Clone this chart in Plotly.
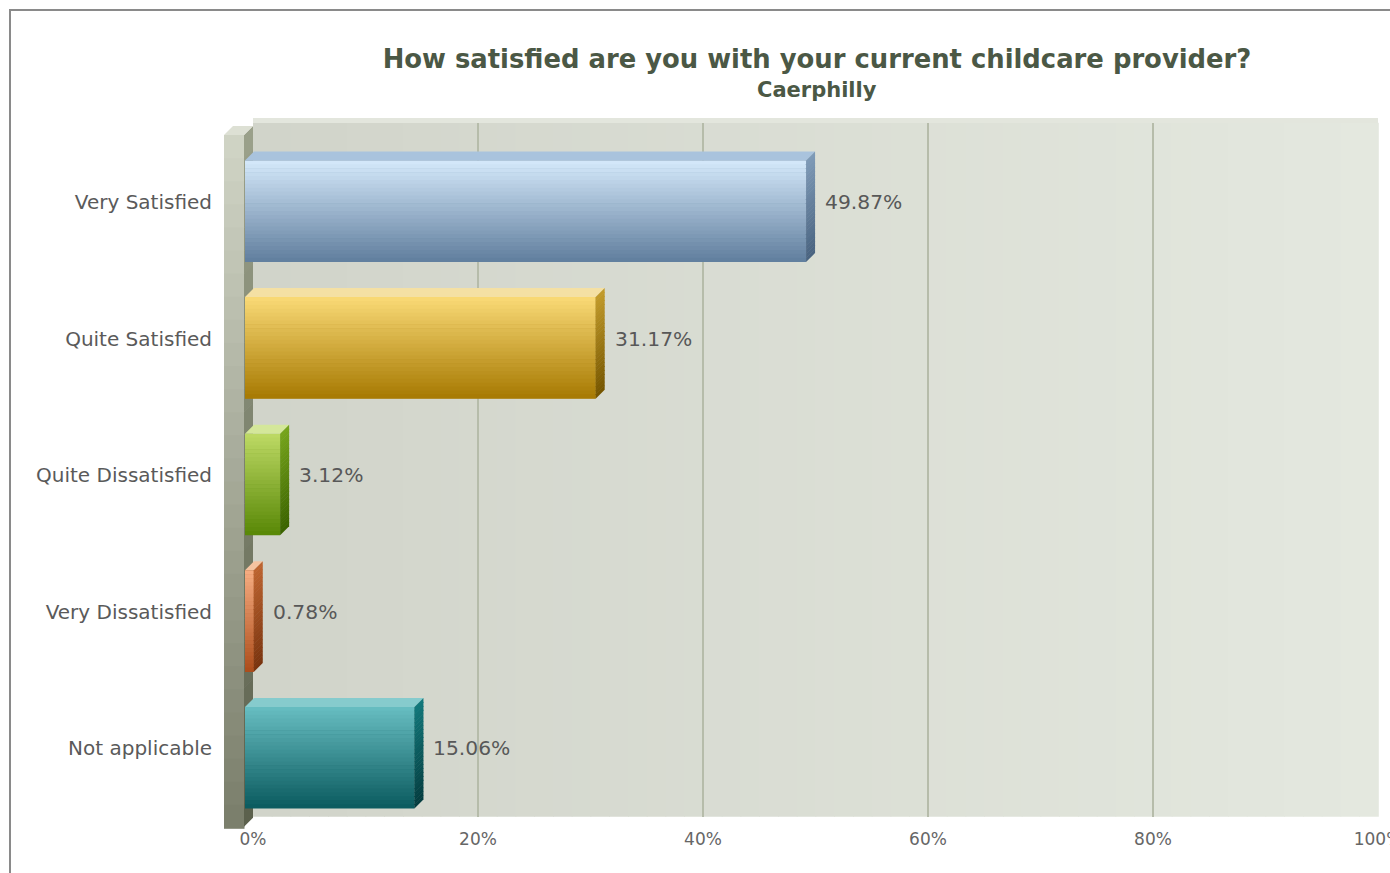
import plotly.graph_objects as go

# ---------------- data ----------------
categories = ["Very Satisfied", "Quite Satisfied", "Quite Dissatisfied", "Very Dissatisfied", "Not applicable"]
values = [49.87, 31.17, 3.12, 0.78, 15.06]
x_ticks = [0, 20, 40, 60, 80, 100]
x_tick_labels = ["0%", "20%", "40%", "60%", "80%", "100%"]
title_text = "How satisfied are you with your current childcare provider?"
subtitle_text = "Caerphilly"

# ---------------- styles ----------------
front_top = ["#d3e7f9", "#f8d874", "#bcd863", "#f5ab80", "#66bcc0"]
front_bot = ["#62809f", "#a87b04", "#5a8908", "#ad4e1c", "#0c5c60"]
cap_col = ["#a9c3dd", "#f4e0a4", "#d4e79a", "#f5c3a0", "#86cbcd"]
side_top = ["#7e9ab7", "#c19a2a", "#76a41c", "#bd6430", "#12777a"]
side_bot = ["#4a6481", "#765600", "#3b6300", "#7a340f", "#043d40"]

W, H = 1390, 873


def X(px):
    return px / W


def Y(py):
    return 1 - py / H


def hex2rgb(h):
    h = h.lstrip("#")
    return tuple(int(h[i:i + 2], 16) for i in (0, 2, 4))


def lerp(c1, c2, t):
    a, b = hex2rgb(c1), hex2rgb(c2)
    return "rgb(%d,%d,%d)" % tuple(round(a[i] + (b[i] - a[i]) * t) for i in range(3))


# axis geometry (pixels)
BACK_X0, BACK_X1 = 253, 1378
FRONT_X0, FRONT_X1 = 245, 1370
BACK_TOP, BACK_BOT = 122.8, 816.8
FRONT_TOP, FRONT_BOT = 142.7, 825.8
BAR_W = 0.74
DX = 9 / ((FRONT_X1 - FRONT_X0) / 100.0)          # depth offset in x data units
DY = 9 / ((FRONT_BOT - FRONT_TOP) / 5.0)           # depth offset in y data units

shapes = []

# ---- frame ----
shapes.append(dict(type="rect", xref="paper", yref="paper", x0=X(10), y0=Y(890), x1=X(1420), y1=Y(10),
                   line=dict(color="#8a8a8a", width=2), fillcolor="rgba(0,0,0,0)", layer="below"))

# ---- back wall gradient ----
N = 60
for k in range(N):
    xa = BACK_X0 + (BACK_X1 - BACK_X0) * k / N
    xb = BACK_X0 + (BACK_X1 - BACK_X0) * (k + 1) / N + 0.8
    shapes.append(dict(type="rect", xref="paper", yref="paper", x0=X(xa), x1=X(xb), y0=Y(BACK_BOT), y1=Y(BACK_TOP),
                       fillcolor=lerp("#d1d4ca", "#e4e8df", k / (N - 1)), line=dict(width=0), layer="below"))
# top rim
shapes.append(dict(type="rect", xref="paper", yref="paper", x0=X(BACK_X0), x1=X(BACK_X1), y0=Y(123), y1=Y(118),
                   fillcolor="#e3e6dd", line=dict(width=0), layer="below"))

# ---- left wall slab ----
NS = 30
s_top, s_bot = 135, 828
for k in range(NS):
    ya = s_top + (s_bot - s_top) * k / NS
    yb = s_top + (s_bot - s_top) * (k + 1) / NS + 0.8
    shapes.append(dict(type="rect", xref="paper", yref="paper", x0=X(224), x1=X(244.5), y0=Y(yb), y1=Y(ya),
                       fillcolor=lerp("#cfd3c4", "#7b7f6c", k / (NS - 1)), line=dict(width=0), layer="below"))
for k in range(NS):
    ya = s_top + (826 - s_top) * k / NS
    yb = s_top + (826 - s_top) * (k + 1) / NS + 0.8
    path = "M %f,%f L %f,%f L %f,%f L %f,%f Z" % (
        X(244), Y(ya), X(253), Y(ya - 9), X(253), Y(yb - 9), X(244), Y(yb))
    shapes.append(dict(type="path", xref="paper", yref="paper", path=path,
                       fillcolor=lerp("#9aa08a", "#5c614d", k / (NS - 1)), line=dict(width=0), layer="below"))
shapes.append(dict(type="path", xref="paper", yref="paper",
                   path="M %f,%f L %f,%f L %f,%f L %f,%f Z" % (X(224), Y(135), X(233), Y(126), X(253), Y(126), X(244), Y(135)),
                   fillcolor="#dde0d4", line=dict(width=0), layer="below"))

# ---- bar 3D faces (from the data, on the front axes) ----
NF = 26
for i, v in enumerate(values):
    top = i - BAR_W / 2
    h = BAR_W / NF
    # front face gradient
    for k in range(NF):
        shapes.append(dict(type="rect", xref="x2", yref="y2", x0=0, x1=v,
                           y0=top + k * h, y1=top + (k + 1) * h + 0.004,
                           fillcolor=lerp(front_top[i], front_bot[i], k / (NF - 1)),
                           line=dict(width=0), layer="above"))
    # top face
    shapes.append(dict(type="path", xref="x2", yref="y2",
                       path="M 0,%f L %f,%f L %f,%f L %f,%f Z" % (top, v, top, v + DX, top - DY, DX, top - DY),
                       fillcolor=cap_col[i], line=dict(width=0), layer="above"))
    # side face
    for k in range(NF):
        ya = top + k * h
        yb = top + (k + 1) * h + 0.004
        shapes.append(dict(type="path", xref="x2", yref="y2",
                           path="M %f,%f L %f,%f L %f,%f L %f,%f Z" % (v, ya, v + DX, ya - DY, v + DX, yb - DY, v, yb),
                           fillcolor=lerp(side_top[i], side_bot[i], k / (NF - 1)),
                           line=dict(width=0), layer="above"))

fig = go.Figure()

# invisible anchor trace for the back (grid) axes
fig.add_trace(go.Scatter(x=[0, 100], y=[0, 4], mode="markers", marker=dict(opacity=0),
                         xaxis="x", yaxis="y", hoverinfo="skip", showlegend=False))

fig.add_trace(go.Bar(
    x=values, y=list(range(len(categories))), orientation="h", width=BAR_W,
    marker=dict(color=front_bot, line=dict(width=0)),
    xaxis="x2", yaxis="y2", showlegend=False,
    hovertext=categories, hoverinfo="text+x",
))

annotations = []
for i, v in enumerate(values):
    annotations.append(dict(x=v, y=i, xref="x2", yref="y", text="%.2f%%" % v, showarrow=False,
                            xanchor="left", yanchor="middle", xshift=17,
                            font=dict(family="DejaVu Sans", size=20.3, color="#585858")))
# subtitle
annotations.append(dict(x=X(817), y=Y(90), xref="paper", yref="paper", text="<b>%s</b>" % subtitle_text,
                        showarrow=False, xanchor="center", yanchor="middle",
                        font=dict(family="DejaVu Sans", size=21, color="#4b5845")))

fig.update_layout(
    width=W, height=H,
    margin=dict(l=0, r=0, t=0, b=0, autoexpand=False),
    paper_bgcolor="white", plot_bgcolor="rgba(0,0,0,0)",
    title=dict(
        text="<b>%s</b>" % title_text,
        x=X(817), xanchor="center", y=Y(59), yanchor="middle",
        font=dict(family="DejaVu Sans", size=25.85, color="#4b5845"),
    ),
    xaxis=dict(domain=[X(BACK_X0), X(BACK_X1)], range=[0, 100], anchor="y", automargin=False,
               tickvals=x_ticks, ticktext=x_tick_labels, ticklabeloverflow="allow",
               showgrid=True, gridcolor="#b6bcaa", gridwidth=1.5, zeroline=False, showline=False,
               ticks="outside", ticklen=7, tickcolor="rgba(0,0,0,0)",
               tickfont=dict(family="DejaVu Sans", size=17, color="#666666"), fixedrange=True),
    yaxis=dict(domain=[Y(BACK_BOT), Y(BACK_TOP)], range=[4.5, -0.58], anchor="x", automargin=False,
               tickvals=list(range(len(categories))), ticktext=categories,
               showgrid=False, zeroline=False, showline=False,
               ticks="outside", ticklen=36, tickcolor="rgba(0,0,0,0)",
               tickfont=dict(family="DejaVu Sans", size=20, color="#5a5a5a"), fixedrange=True),
    xaxis2=dict(domain=[X(FRONT_X0), X(FRONT_X1)], range=[0, 100], anchor="y2", visible=False,
                automargin=False, fixedrange=True),
    yaxis2=dict(domain=[Y(FRONT_BOT), Y(FRONT_TOP)], range=[4.5, -0.5], anchor="x2", visible=False,
                automargin=False, fixedrange=True),
    shapes=shapes,
    annotations=annotations,
    bargap=0.26,
)

fig.write_html("out.html", config={"displayModeBar": False},
               post_script="document.body.style.margin='0';document.body.style.overflow='hidden';")
